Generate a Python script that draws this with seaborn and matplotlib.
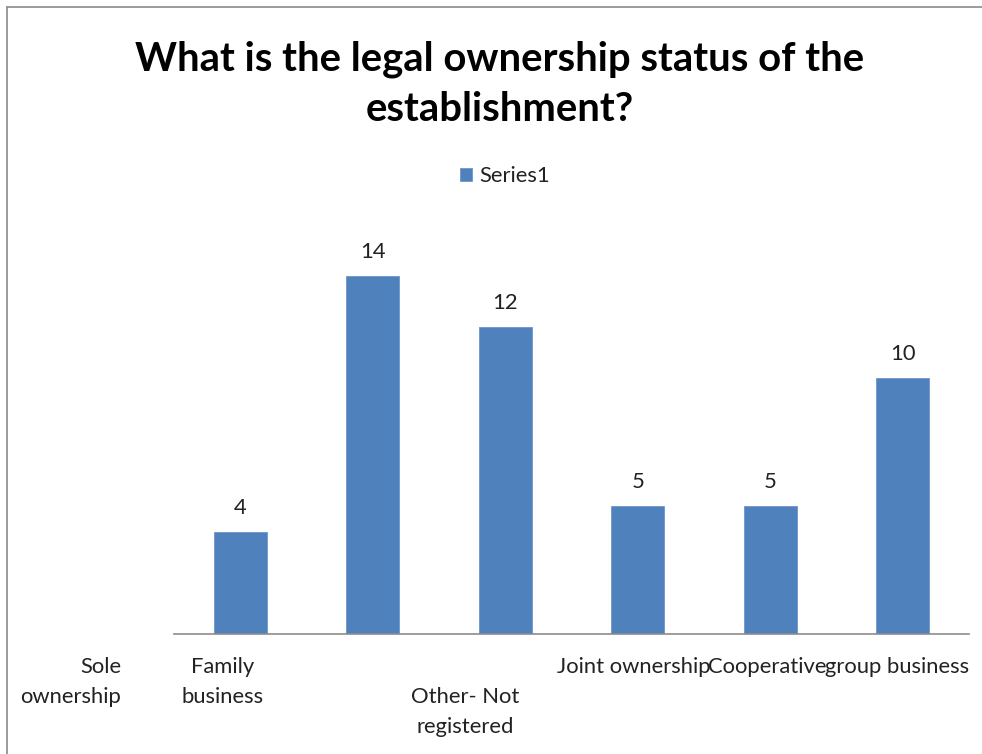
import matplotlib
matplotlib.use("Agg")
import matplotlib.pyplot as plt
from matplotlib.lines import Line2D
import seaborn as sns
import pandas as pd

# Survey responses: legal ownership status
categories = ["Sole ownership", "Family business", "Other- Not registered",
              "Joint ownership", "Cooperative", "group business"]
counts = [4, 14, 12, 5, 5, 10]
series_name = "Series1"

# How each category name is broken over lines under the axis
label_lines = [["Sole", "ownership"], ["Family", "business"], ["Other- Not", "registered"],
               ["Joint ownership"], ["Cooperative"], ["group business"]]

df = pd.DataFrame({"category": categories, "count": counts})

sns.set_theme(style="white")
plt.rcParams["font.family"] = ["Lato", "DejaVu Sans"]

BAR_BLUE = "#4F81BD"
TEXT = "#222222"
FS = 15.8

fig = plt.figure(figsize=(9.82, 7.54), dpi=100)
ax = fig.add_axes([0.1772, 0.1592, 0.8096, 0.5424])

sns.barplot(data=df, x="category", y="count", color=BAR_BLUE, width=0.4,
            saturation=1, label=series_name, ax=ax, edgecolor="#6E95C8", linewidth=0.6)

ax.set_xlim(-0.5, len(categories) - 0.5)
ax.set_ylim(0, 16)
ax.set_xlabel("")
ax.set_ylabel("")
ax.set_xticks([])
ax.set_yticks([])
for side in ["top", "right", "left"]:
    ax.spines[side].set_visible(False)
ax.spines["bottom"].set_color("#8C8C8C")
ax.spines["bottom"].set_linewidth(1.2)

# value labels above the bars
ax.bar_label(ax.containers[0], labels=[str(v) for v in counts], padding=10,
             fontsize=FS, color=TEXT)

# category labels, laid out under the axis
label_x = [-0.90, -0.13, 1.70, 2.97, 3.98, 4.96]
label_ha = ["right", "center", "center", "center", "center", "center"]
label_row = [0, 0, 1, 0, 0, 0]
row0_y, row_step = -1.29, 1.17
for lines, x, ha, row in zip(label_lines, label_x, label_ha, label_row):
    for k, line in enumerate(lines):
        ax.text(x, row0_y - (row + k) * row_step, line, ha=ha, va="center",
                fontsize=FS, color=TEXT, clip_on=False)

# legend
leg = ax.legend(loc="center", bbox_to_anchor=(505 / 982, 1 - 176 / 754),
                bbox_transform=fig.transFigure, frameon=False, fontsize=FS,
                handlelength=0.55, handleheight=0.55, handletextpad=0.3,
                labelcolor=TEXT)

# title
fig.text(500 / 982, 1 - 70 / 754, "What is the legal ownership status of the",
         ha="center", va="baseline", fontsize=28.8, fontweight="bold", color="#000000")
fig.text(500 / 982, 1 - 121 / 754, "establishment?",
         ha="center", va="baseline", fontsize=28.8, fontweight="bold", color="#000000")

# chart frame (top and left edges)
fig.add_artist(Line2D([7 / 982, 1], [1 - 7 / 754, 1 - 7 / 754], transform=fig.transFigure,
                      color="#8A8A8A", linewidth=1.2))
fig.add_artist(Line2D([7 / 982, 7 / 982], [0, 1 - 7 / 754], transform=fig.transFigure,
                      color="#8A8A8A", linewidth=1.2))

fig.savefig("out.png", dpi=100, facecolor="white")
